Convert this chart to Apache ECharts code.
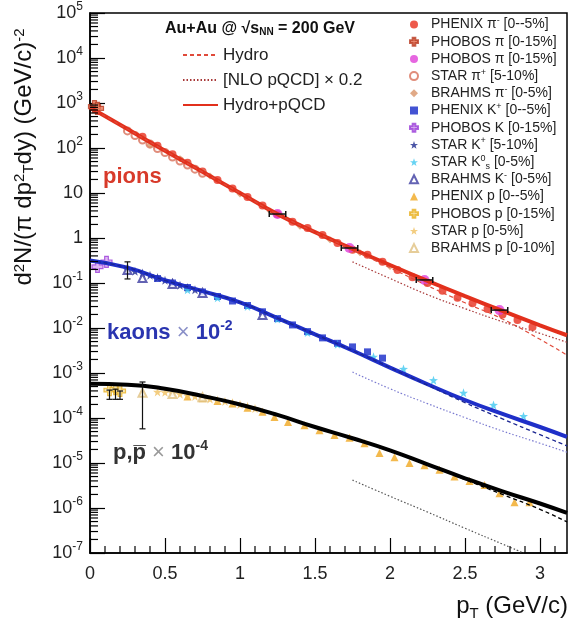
<!DOCTYPE html>
<html><head><meta charset="utf-8">
<script src="https://cdn.jsdelivr.net/npm/echarts@6/dist/echarts.min.js"></script>
<style>html,body{margin:0;padding:0;background:#fff}#c{width:571px;height:622px}</style>
</head><body><div id="c"></div>
<script>
const FONT = '"Liberation Sans", Arial, Helvetica, sans-serif';

// ---- theory curves (x grid + values) ----
const curveX = [0,0.25,0.5,0.75,1.0,1.25,1.5,1.75,2.0,2.25,2.5,2.75,3.0,3.18];
const pionHydroPQCD = [794,263,87.1,29.5,10,3.39,1.35,0.575,0.251,0.112,0.0513,0.024,0.0115,0.0069];
const pionHydro     = [794,263,87.1,29.5,10,3.39,1.35,0.55,0.219,0.087,0.0363,0.0158,0.0056,0.0025];
const pqcdX = [1.75,2.0,2.25,2.5,2.75,3.0,3.18];
const pionNLO = [0.295,0.126,0.055,0.0269,0.0138,0.0076,0.0048];
const kaonHydroPQCD = [0.316,0.219,0.115,0.0661,0.0372,0.0166,0.00724,0.00316,0.00132,0.000562,0.000251,0.000123,6.31e-5,3.8e-5];
const kaonHydro     = [0.316,0.219,0.115,0.0661,0.0372,0.0166,0.00724,0.00316,0.00132,0.000537,0.000219,9.55e-5,4.27e-5,2.4e-5];
const kaonNLO = [0.00105,0.000447,0.000209,0.000102,5.13e-5,2.75e-5,1.74e-5];
const protonHydroPQCD = [5.75e-4,5.5e-4,4.47e-4,3.09e-4,2.0e-4,1.17e-4,6.31e-5,3.55e-5,1.91e-5,9.33e-6,4.57e-6,2.34e-6,1.26e-6,7.76e-7];
const protonHydro     = [5.75e-4,5.5e-4,4.47e-4,3.09e-4,2.0e-4,1.17e-4,6.31e-5,3.55e-5,1.91e-5,9.33e-6,4.27e-6,2.0e-6,9.33e-7,4.9e-7];
const protonNLOX = [1.75,2.0,2.25,2.5,2.75,2.89];
const protonNLO  = [4.17e-6,1.82e-6,8.13e-7,3.55e-7,1.58e-7,1.0e-7];

// ---- data points [pT, yield] ----
const phenixPi = [[0.35,178],[0.45,112],[0.55,72.4],[0.65,46.8],[0.75,30.2],[0.85,19.5],[0.95,12.6],[1.05,8.13],[1.15,5.25],[1.25,3.39],[1.35,2.29],[1.45,1.66],[1.55,1.17],[1.65,0.776],[1.75,0.55],[1.85,0.427],[1.95,0.295],[2.05,0.195],[2.15,0.135],[2.25,0.1],[2.35,0.0676],[2.45,0.0468],[2.55,0.0355],[2.65,0.0263],[2.75,0.02],[2.85,0.0151],[2.95,0.0105]];
const phobosPiLow = [[0.03,832],[0.05,760]];
const phobosPiHigh = [[1.25,3.41],[1.73,0.60],[2.23,0.117],[2.73,0.025]];
const starPiPlus = [[0.25,240],[0.30,190],[0.35,151],[0.40,123],[0.45,97.7],[0.50,79.4],[0.55,63.1],[0.60,51.3],[0.65,41.7],[0.70,33.9],[0.75,27.5]];
const brahmsPi = [[0.4,115],[0.6,57.5],[0.8,24],[1.0,9.55],[1.2,3.98],[1.4,1.82],[1.6,0.912],[1.8,0.468],[2.0,0.234]];
const phenixK = [[0.45,0.126],[0.55,0.1],[0.65,0.0794],[0.75,0.0631],[0.85,0.0501],[0.95,0.0398],[1.05,0.0316],[1.15,0.0229],[1.25,0.0162],[1.35,0.0117],[1.45,0.00832],[1.55,0.00603],[1.65,0.00457],[1.75,0.0038],[1.85,0.00295],[1.95,0.00214]];
const phobosK = [[0.05,0.229],[0.11,0.295]];
const starKPlus = [[0.25,0.2],[0.3,0.182],[0.35,0.166],[0.4,0.148],[0.45,0.132],[0.5,0.115],[0.55,0.102],[0.6,0.0891],[0.65,0.0794],[0.7,0.0708]];
const starK0s = [[0.65,0.0708],[0.85,0.0468],[1.05,0.0302],[1.25,0.0158],[1.45,0.00794],[1.65,0.00437],[1.89,0.00229],[2.09,0.00123],[2.29,0.000692],[2.49,0.000363],[2.69,0.000195],[2.89,0.00011]];
const brahmsK = [[0.25,0.195],[0.35,0.129],[0.55,0.0955],[0.75,0.0603],[1.15,0.0195]];
const phenixP = [[0.65,3.02e-4],[0.75,2.75e-4],[0.85,2.4e-4],[0.95,2.09e-4],[1.05,1.7e-4],[1.15,1.38e-4],[1.23,1.05e-4],[1.32,8.13e-5],[1.43,6.92e-5],[1.53,5.37e-5],[1.63,4.17e-5],[1.73,3.63e-5],[1.83,2.75e-5],[1.93,1.66e-5],[2.03,1.35e-5],[2.13,1e-5],[2.23,8.91e-6],[2.33,7.08e-6],[2.43,5.01e-6],[2.53,3.98e-6],[2.63,3.24e-6],[2.73,2.14e-6],[2.83,1.35e-6],[2.93,1.35e-6]];
const phobosP = [[0.13,4.17e-4],[0.17,4.37e-4],[0.2,3.98e-4]];
const starP = [[0.45,3.8e-4],[0.5,3.72e-4],[0.55,3.55e-4],[0.6,3.39e-4],[0.65,3.16e-4],[0.7,3.02e-4],[0.75,2.82e-4],[0.8,2.63e-4],[0.85,2.51e-4],[0.9,2.34e-4],[0.95,2.19e-4],[1.0,2.0e-4],[1.05,1.82e-4],[1.1,1.62e-4]];
const brahmsP = [[0.35,3.63e-4],[0.55,3.4e-4],[0.75,2.9e-4]];

// error bars: vertical [x, low, high], horizontal [xlow, xhigh, y]
const errV = [[0.25,0.123,0.295],[0.35,5.75e-5,6.31e-4],[0.13,2.6e-4,4.17e-4],[0.17,2.6e-4,4.37e-4],[0.2,2.6e-4,3.98e-4]];
const errH = [[1.195,1.305,3.41],[1.675,1.785,0.60],[2.175,2.285,0.117],[2.675,2.785,0.025]];

// axis ticks
const xMinorTicks = [0.1,0.2,0.3,0.4,0.6,0.7,0.8,0.9,1.1,1.2,1.3,1.4,1.6,1.7,1.8,1.9,2.1,2.2,2.3,2.4,2.6,2.7,2.8,2.9,3.1];
const yMinorTicks = [];
for (let e = -7; e < 5; e++) for (let k = 2; k <= 9; k++) yMinorTicks.push(k * Math.pow(10, e));

const zip = (xs, ys) => xs.map((x, i) => [x, ys[i]]);

const STAR = 'path://M0,-10L2.35,-3.24L9.51,-3.09L3.8,1.24L5.88,8.09L0,4L-5.88,8.09L-3.8,1.24L-9.51,-3.09L-2.35,-3.24Z';
const CROSS = 'path://M-3,-9L3,-9L3,-3L9,-3L9,3L3,3L3,9L-3,9L-3,3L-9,3L-9,-3L-3,-3Z';

function lineS(name, data, color, width, type) {
  return {name, type:'line', data, symbol:'none', smooth:true, z:4, silent:true,
    lineStyle:{color, width, type}, itemStyle:{color}};
}
function scat(name, data, symbol, size, fill, stroke, bw) {
  return {name, type:'scatter', data, symbol, symbolSize:size, z:3, silent:true,
    itemStyle:{color:fill, borderColor:stroke || fill, borderWidth: bw || 0}};
}
function tickSeries(data, dir, len) {
  return {type:'custom', silent:true, z:10, clip:false, data, encode:{x:0, y:1},
    renderItem(params, api) {
      const p = api.coord([api.value(0), api.value(1)]);
      const shape = dir === 'y' ? {x1:p[0], y1:p[1], x2:p[0]+len, y2:p[1]} : {x1:p[0], y1:p[1], x2:p[0], y2:p[1]-len};
      return {type:'line', shape, style:{stroke:'#000', lineWidth:1.2}};
    }};
}

const legendLabels = {
  'PHENIX π- [0--5%]':'PHENIX π{sup|-} [0--5%]',
  'STAR π+ [5-10%]':'STAR π{sup|+} [5-10%]',
  'BRAHMS π- [0-5%]':'BRAHMS π{sup|-} [0-5%]',
  'PHENIX K+ [0--5%]':'PHENIX K{sup|+} [0--5%]',
  'STAR K+ [5-10%]':'STAR K{sup|+} [5-10%]',
  'STAR K0s [0-5%]':'STAR K{sup|0}{sub|s} [0-5%]',
  'BRAHMS K- [0-5%]':'BRAHMS K{sup|-} [0-5%]'
};
const dataNames = ['PHENIX π- [0--5%]','PHOBOS π [0-15%]','PHOBOS π [0-15%] ','STAR π+ [5-10%]','BRAHMS π- [0-5%]','PHENIX K+ [0--5%]','PHOBOS K [0-15%]','STAR K+ [5-10%]','STAR K0s [0-5%]','BRAHMS K- [0-5%]','PHENIX p [0--5%]','PHOBOS p [0-15%]','STAR p [0-5%]','BRAHMS p [0-10%]'];

const series = [
  lineS('Hydro+pQCD', zip(curveX, pionHydroPQCD), '#e2301c', 4, 'solid'),
  lineS('Hydro', zip(curveX, pionHydro), '#e04a3a', 1.2, [4,3]),
  lineS('[NLO pQCD] × 0.2', zip(pqcdX, pionNLO), '#a83838', 1.2, [1.5,2]),
  lineS('K Hydro+pQCD', zip(curveX, kaonHydroPQCD), '#1f2fc8', 4, 'solid'),
  lineS('K Hydro', zip(curveX, kaonHydro), '#1a2590', 1.3, [4,3]),
  lineS('K NLO', zip(pqcdX, kaonNLO), '#7a7ad0', 1.2, [1.5,2]),
  lineS('p Hydro+pQCD', zip(curveX, protonHydroPQCD), '#000000', 4, 'solid'),
  lineS('p Hydro', zip(curveX, protonHydro), '#000000', 1.3, [4,3]),
  lineS('p NLO', zip(protonNLOX, protonNLO), '#555555', 1.2, [1.5,2]),
  scat(dataNames[0], phenixPi, 'circle', 8, '#e8301e'),
  scat(dataNames[1], phobosPiLow, CROSS, 12, '#ec7a5c', '#b83a20', 1.2),
  scat(dataNames[2], phobosPiHigh, 'circle', 10, '#e040d8'),
  scat(dataNames[3], starPiPlus, 'emptyCircle', 7, '#d8705a'),
  scat(dataNames[4], brahmsPi, 'diamond', 7, '#d89468'),
  scat(dataNames[5], phenixK, 'rect', 7, '#1428c8'),
  scat(dataNames[6], phobosK, CROSS, 11, '#d8a8f0', '#9a3cd8', 1.2),
  scat(dataNames[7], starKPlus, STAR, 9, '#1e2a90'),
  scat(dataNames[8], starK0s, STAR, 9, '#40c8f0'),
  scat(dataNames[9], brahmsK, 'emptyTriangle', 8, '#3c3ca0'),
  scat(dataNames[10], phenixP, 'triangle', 8, '#f0a820'),
  scat(dataNames[11], phobosP, CROSS, 11, '#f6e0a0', '#e8b020', 1.2),
  scat(dataNames[12], starP, STAR, 9, '#f0c060'),
  scat(dataNames[13], brahmsP, 'emptyTriangle', 8, '#e0c080'),
  {type:'custom', silent:true, z:5, clip:false, data: errV, encode:{x:0, y:[1,2]},
    renderItem(params, api) {
      const a = api.coord([api.value(0), api.value(1)]), b = api.coord([api.value(0), api.value(2)]);
      const st = {stroke:'#111', lineWidth:1.2};
      return {type:'group', children:[
        {type:'line', shape:{x1:a[0], y1:a[1], x2:b[0], y2:b[1]}, style:st},
        {type:'line', shape:{x1:a[0]-3, y1:a[1], x2:a[0]+3, y2:a[1]}, style:st},
        {type:'line', shape:{x1:b[0]-3, y1:b[1], x2:b[0]+3, y2:b[1]}, style:st}]};
    }},
  {type:'custom', silent:true, z:5, clip:false, data: errH, encode:{x:[0,1], y:2},
    renderItem(params, api) {
      const a = api.coord([api.value(0), api.value(2)]), b = api.coord([api.value(1), api.value(2)]);
      const st = {stroke:'#111', lineWidth:1.5};
      return {type:'group', children:[
        {type:'line', shape:{x1:a[0], y1:a[1], x2:b[0], y2:b[1]}, style:st},
        {type:'line', shape:{x1:a[0], y1:a[1]-3, x2:a[0], y2:a[1]+3}, style:st},
        {type:'line', shape:{x1:b[0], y1:b[1]-3, x2:b[0], y2:b[1]+3}, style:st}]};
    }},
  tickSeries(yMinorTicks.map(v => [0, v]), 'y', 8),
  tickSeries(xMinorTicks.map(v => [v, 1e-7]), 'x', 7)
];

const chart = echarts.init(document.getElementById('c'), null, {renderer:'canvas'});
chart.setOption({
  animation:false,
  backgroundColor:'#ffffff',
  grid:{left:90, right:4, top:13, bottom:69, show:true, borderColor:'#000', borderWidth:1.5},
  xAxis:{type:'value', min:0, max:3.18, interval:0.5,
    axisLine:{show:true, lineStyle:{color:'#000', width:1.5}},
    axisTick:{show:true, inside:true, length:15, lineStyle:{color:'#000', width:1.2}},
    axisLabel:{fontSize:18, color:'#222', margin:12, fontFamily:FONT, showMaxLabel:false},
    splitLine:{show:false}},
  yAxis:{type:'log', logBase:10, min:1e-7, max:1e5, interval:1,
    axisLine:{show:true, lineStyle:{color:'#000', width:1.5}},
    axisTick:{show:true, inside:true, length:15, lineStyle:{color:'#000', width:1.2}},
    axisLabel:{margin:7, color:'#222', fontFamily:FONT, fontSize:18, lineHeight:24,
      formatter: v => { const e = Math.round(Math.log10(v)); if (e === 0) return '{b|1}'; if (e === 1) return '{b|10}'; return '{b|10}{s|' + e + '}'; },
      rich:{b:{fontSize:18, fontFamily:FONT, color:'#222', lineHeight:24}, s:{fontSize:12, fontFamily:FONT, color:'#222', verticalAlign:'top'}}},
    splitLine:{show:false}},
  legend:[
    {data:['Hydro','[NLO pQCD] × 0.2','Hydro+pQCD'], orient:'vertical', left:177, top:41,
      itemWidth:35, itemHeight:12, itemGap:7, selectedMode:false,
      itemStyle:{opacity:0},
      textStyle:{fontSize:17, fontFamily:FONT, color:'#222', lineHeight:18}},
    {data:dataNames, orient:'vertical', left:404, top:11, itemWidth:8, itemHeight:8, itemGap:0.2, selectedMode:false,
      formatter: n => legendLabels[n] || n,
      textStyle:{fontSize:14, fontFamily:FONT, color:'#222', padding:[0,0,0,8], lineHeight:17,
        rich:{sup:{fontSize:9, fontFamily:FONT, color:'#222', verticalAlign:'top', lineHeight:12}, sub:{fontSize:9, fontFamily:FONT, color:'#222', verticalAlign:'bottom', lineHeight:12}}}}
  ],
  graphic:[
    {type:'text', x:24, y:157, rotation:Math.PI/2, silent:true,
      style:{text:'d{sup|2}N/(π dp{sup|2}{sub|T}dy) (GeV/c){sup|-2}', font:'24px ' + FONT, fill:'#111', align:'center', verticalAlign:'middle',
        rich:{sup:{fontSize:15, fontFamily:FONT, fill:'#111', verticalAlign:'top'}, sub:{fontSize:15, fontFamily:FONT, fill:'#111', verticalAlign:'bottom'}}}},
    {type:'text', x:568, y:606, silent:true,
      style:{text:'p{sub|T} (GeV/c)', font:'24px ' + FONT, fill:'#111', align:'right', verticalAlign:'middle', lineHeight:30,
        rich:{sub:{fontSize:15, fontFamily:FONT, fill:'#111', verticalAlign:'bottom'}}}},
    {type:'text', x:103, y:177, silent:true,
      style:{text:'pions', font:'bold 22px ' + FONT, fill:'#d83a2a', verticalAlign:'middle'}},
    {type:'text', x:107, y:333, silent:true,
      style:{text:'{k|kaons }{x|× }{k|10}{s|-2}', verticalAlign:'middle', font:'bold 22px ' + FONT, fill:'#2a35b0',
        rich:{k:{font:'bold 22px ' + FONT, fill:'#2a35b0', lineHeight:28}, x:{font:'22px ' + FONT, fill:'#8a90c8', lineHeight:28}, s:{font:'bold 14px ' + FONT, fill:'#2a35b0', verticalAlign:'top'}}}},
    {type:'text', x:113, y:453, silent:true,
      style:{text:'{k|p,p\u0305 }{x|× }{k|10}{s|-4}', verticalAlign:'middle', font:'bold 22px ' + FONT, fill:'#333',
        rich:{k:{font:'bold 22px ' + FONT, fill:'#333', lineHeight:28}, x:{font:'22px ' + FONT, fill:'#999', lineHeight:28}, s:{font:'bold 14px ' + FONT, fill:'#333', verticalAlign:'top'}}}},
    {type:'text', x:165, y:29, silent:true,
      style:{text:'Au+Au @ √s{sub|NN} = 200 GeV', font:'bold 16px ' + FONT, fill:'#111', verticalAlign:'middle',
        rich:{sub:{font:'bold 10px ' + FONT, fill:'#111', verticalAlign:'bottom'}}}}
  ],
  series
});
</script></body></html>
